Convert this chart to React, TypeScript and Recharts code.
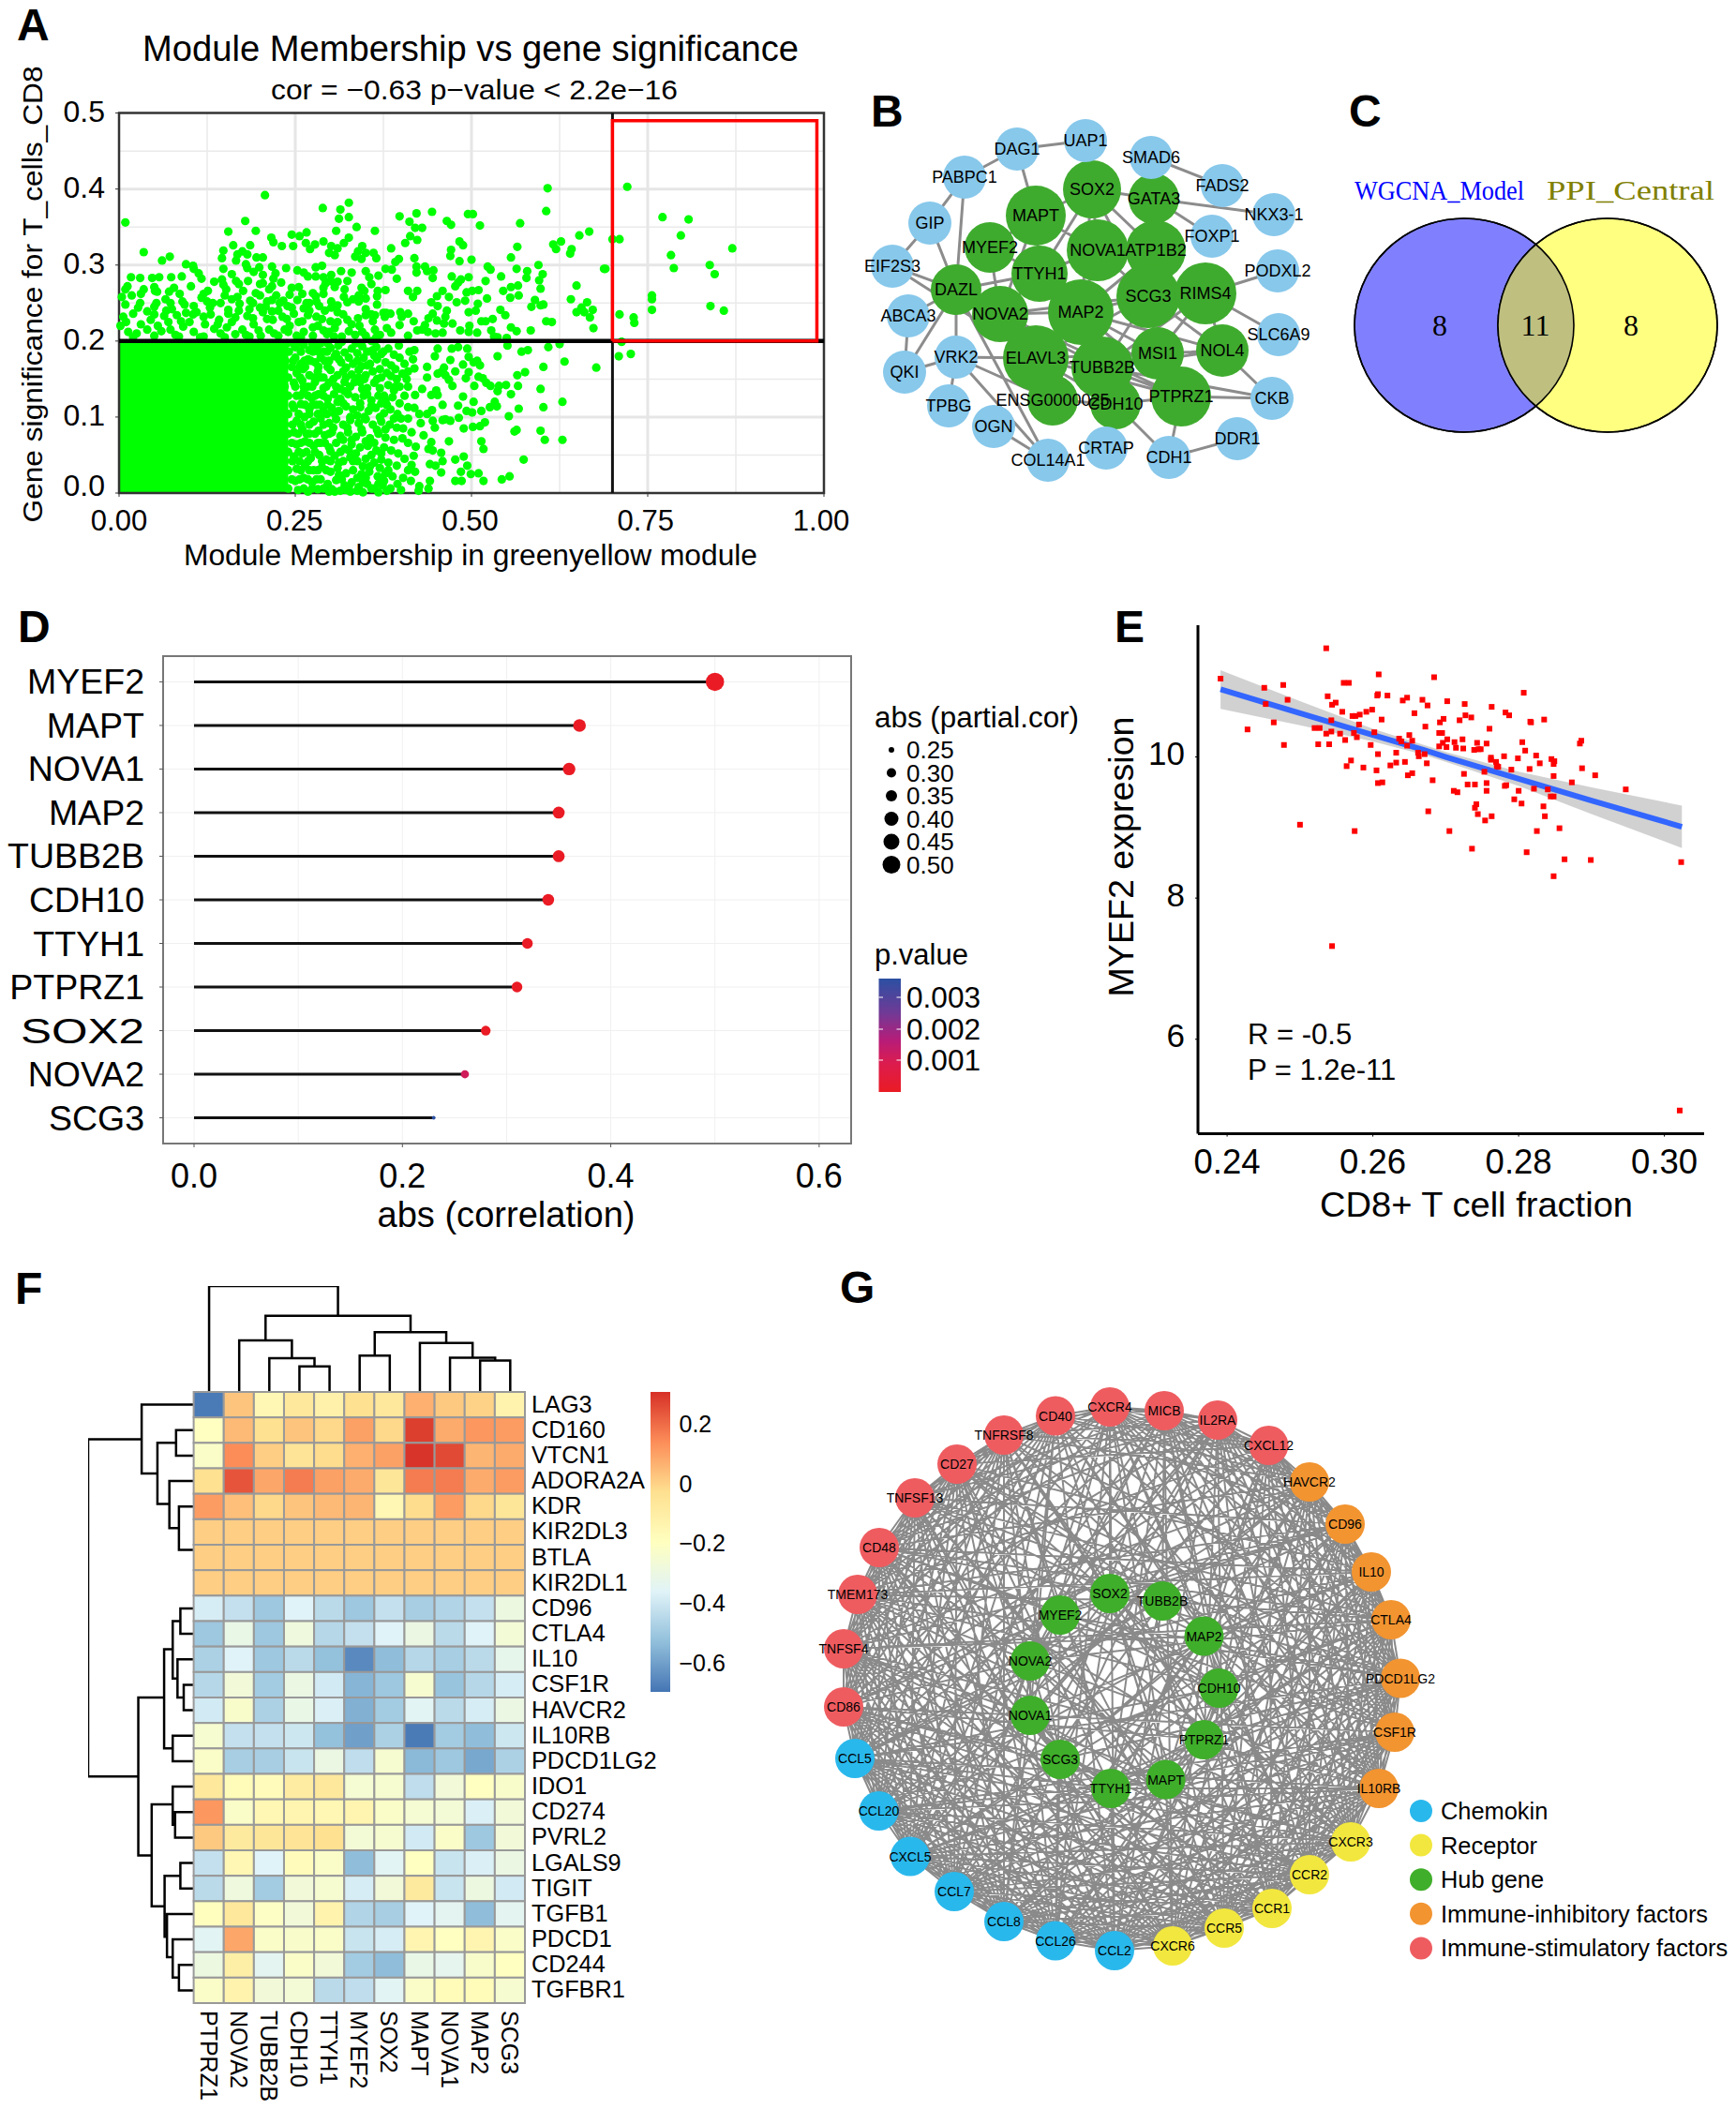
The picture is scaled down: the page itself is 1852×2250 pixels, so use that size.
import React from "react";
import { ComposedChart, XAxis, YAxis, Scatter, Line, Area, CartesianGrid, ReferenceArea } from "recharts";

const SANS = "'Liberation Sans', Arial, sans-serif";

// ---------- Panel A values: [module membership, gene significance]
const aTicksX = [0, 0.25, 0.5, 0.75, 1];
const aTicksY = [0, 0.1, 0.2, 0.3, 0.4, 0.5];
const aCutX = 0.7, aCutY = 0.2, aBoxX = 0.99, aBoxY = 0.49;
const aRightSide = [
[.721,.403],[.771,.363],[.808,.36],[.797,.339],[.87,.322],[.783,.313],[.787,.296],[.838,.3],[.845,.288],[.70,.334],[.71,.334],[.69,.295],[.756,.26],[.756,.255],[.756,.241],[.839,.246],[.858,.24],[.71,.235],[.73,.231],[.731,.224],[.713,.199],[.709,.18],[.726,.183]
];
const aUpperSparse = [
[.009,.356],[.035,.317],[.061,.306],[.072,.311],[.095,.301],[.105,.299],[.207,.392],[.179,.358],[.155,.344],[.194,.345],[.162,.326],[.148,.319],[.186,.326],[.146,.309],[.168,.314],[.175,.318],[.182,.314],[.195,.31],[.204,.31],[.166,.306],[.18,.301],[.148,.295],[.216,.336],[.219,.33],[.231,.325],[.245,.34],[.256,.338],[.266,.343],[.247,.325],[.265,.329],[.271,.321],[.278,.327],[.29,.331],[.289,.375],[.314,.373],[.326,.382],[.312,.361],[.326,.363],[.308,.345],[.337,.35],[.363,.345],[.326,.336],[.319,.329],[.301,.325],[.31,.322],[.298,.316],[.306,.313],[.345,.325],[.339,.318],[.35,.316],[.335,.311],[.361,.316],[.365,.309],[.344,.308],[.398,.364],[.422,.368],[.444,.37],[.412,.357],[.43,.349],[.42,.349],[.413,.338],[.423,.333],[.406,.329],[.386,.322],[.397,.308],[.392,.304],[.419,.309],[.422,.298],[.422,.29],[.434,.298],[.446,.293],[.437,.292],[.445,.283],[.465,.358],[.471,.353],[.483,.331],[.488,.326],[.471,.32],[.47,.312],[.483,.305],[.5,.307],[.495,.367],[.502,.367],[.512,.352],[.569,.355],[.608,.401],[.606,.371],[.667,.344],[.653,.339],[.627,.331],[.616,.327],[.62,.321],[.642,.321],[.64,.315],[.565,.324],[.556,.31],[.595,.3],[.564,.295],[.579,.292],[.578,.283],[.601,.288],[.596,.28],[.598,.269],[.649,.273],[.688,.295],[.523,.298],[.527,.294],[.542,.285],[.52,.279],[.472,.285],[.496,.284],[.485,.281],[.481,.277],[.477,.272],[.556,.271],[.566,.273],[.545,.266],[.555,.257],[.567,.26],[.641,.255],[.664,.251],[.59,.254],[.602,.248],[.598,.247],[.585,.245],[.522,.256],[.51,.267],[.501,.266],[.493,.264],[.459,.266],[.41,.266],[.423,.266],[.417,.258],[.378,.267],[.367,.266],[.394,.282],[.378,.295],[.387,.294],[.368,.286],[.358,.275],[.451,.259],[.443,.251],[.452,.246],[.468,.258],[.479,.251],[.491,.253],[.496,.238],[.509,.249],[.506,.24],[.465,.24],[.463,.232],[.461,.223],[.451,.227],[.445,.236],[.439,.23],[.473,.223],[.541,.241],[.548,.234],[.53,.229],[.514,.226],[.52,.226],[.497,.22],[.484,.214],[.508,.211],[.496,.212],[.528,.214],[.532,.206],[.556,.218],[.564,.213],[.584,.214],[.55,.204],[.537,.205],[.606,.226],[.614,.225],[.649,.238],[.656,.244],[.66,.238],[.668,.231],[.672,.241],[.673,.217],[.459,.211],[.449,.21],[.438,.212],[.43,.215],[.434,.221],[.423,.214],[.41,.207],[.418,.226],[.41,.236],[.399,.238],[.401,.232],[.398,.221],[.386,.211],[.38,.217],[.379,.237],[.385,.236],[.375,.237],[.377,.232],[.363,.234]
];
const aUpperMass = [
[.106,.295],[.113,.289],[.16,.288],[.182,.296],[.191,.291],[.199,.297],[.204,.287],[.217,.298],[.222,.289],[.237,.296],[.253,.293],[.262,.29],[.268,.285],[.279,.297],[.288,.299],[.279,.285],[.29,.284],[.301,.287],[.315,.292],[.33,.29],[.35,.292],[.355,.284],[.31,.278],[.3,.279],
[.017,.284],[.03,.283],[.047,.283],[.057,.284],[.074,.284],[.089,.285],[.117,.282],[.135,.278],[.146,.281],[.166,.279],[.183,.279],[.204,.276],[.219,.282],[.23,.277],[.255,.271],[.293,.276],[.306,.271],[.324,.279],
[.009,.268],[.012,.272],[.035,.268],[.05,.271],[.054,.265],[.071,.265],[.078,.27],[.102,.272],[.126,.266],[.148,.274],[.152,.268],[.176,.266],[.194,.263],[.213,.268],[.217,.272],[.242,.261],[.275,.263],[.279,.259],[.306,.276],[.344,.27],[.348,.266],
[.004,.258],[.018,.26],[.031,.262],[.051,.266],[.066,.255],[.086,.262],[.09,.252],[.117,.257],[.133,.25],[.168,.258],[.186,.253],[.2,.26],[.217,.254],[.233,.253],[.253,.254],[.266,.25],[.301,.252],[.319,.258],[.332,.255],[.35,.256],[.366,.248],[.12,.262],[.15,.26],[.21,.252],[.29,.262],[.366,.259],
[.009,.248],[.027,.244],[.053,.25],[.073,.25],[.093,.248],[.106,.246],[.129,.244],[.155,.241],[.171,.249],[.2,.244],[.217,.239],[.239,.246],[.262,.243],[.284,.246],[.301,.244],[.324,.251],[.35,.242],[.31,.247],[.34,.252],[.144,.25],[.185,.242],[.228,.25],[.27,.25],[.28,.252],
[.006,.232],[.02,.236],[.04,.239],[.064,.233],[.067,.24],[.082,.234],[.095,.237],[.12,.232],[.142,.228],[.155,.236],[.182,.233],[.204,.238],[.226,.24],[.248,.236],[.268,.234],[.288,.229],[.31,.238],[.339,.23],[.35,.234],[.324,.228],[.3,.226],[.36,.226],[.238,.229],[.26,.226],[.21,.229],[.165,.231],[.11,.238],[.088,.226],[.045,.228],
[.002,.22],[.013,.212],[.031,.222],[.055,.22],[.073,.215],[.091,.219],[.106,.212],[.122,.222],[.153,.218],[.175,.215],[.191,.222],[.213,.215],[.242,.22],[.262,.212],[.282,.22],[.306,.217],[.326,.213],[.341,.22],[.363,.215],[.144,.21],[.165,.209],[.201,.207],[.226,.207],[.252,.207],[.275,.207],[.295,.209],[.316,.206],[.35,.207],[.37,.208],[.085,.206],[.05,.207],[.02,.205],[.12,.206],[.185,.206],[.24,.212],[.135,.216],[.06,.213],[.335,.208],[.305,.206],[.29,.214],
[.01,.225],[.025,.21],[.04,.215],[.05,.235],[.07,.225],[.08,.208],[.1,.225],[.105,.235],[.115,.205],[.13,.235],[.14,.222],[.15,.205],[.16,.225],[.17,.24],[.18,.208],[.19,.23],[.198,.214],[.208,.245],[.218,.228],[.22,.21],[.232,.232],[.235,.215],[.245,.244],[.255,.225],[.258,.205],[.27,.24],[.275,.218],[.28,.232],[.292,.24],[.298,.212],[.31,.225],[.318,.235],[.33,.222],[.345,.212],[.358,.235],[.365,.205],[.05,.245],[.03,.25],[.075,.242],[.125,.252],[.16,.255],[.19,.25],[.223,.26],[.245,.27],[.26,.262],[.29,.27],[.32,.268],[.34,.26],[.2,.275],[.17,.275]
];
const aLowerSparse = [
[.677,.165],[.632,.173],[.602,.166],[.576,.159],[.565,.155],[.58,.188],[.571,.186],[.625,.196],[.609,.192],[.551,.194],[.537,.18],[.598,.137],[.566,.141],[.556,.13],[.549,.142],[.539,.141],[.537,.134],[.629,.12],[.602,.113],[.567,.111],[.553,.101],[.598,.082],[.629,.07],[.604,.07],[.564,.083],[.561,.081],[.574,.044],[.554,.022],[.543,.018],[.51,.026],[.517,.016],[.499,.025],[.486,.016],[.477,.016],[.485,.028],[.494,.036],[.489,.048],[.477,.044],[.459,.042],[.457,.027],[.449,.036],[.441,.038],[.517,.058],[.514,.068],[.468,.068],[.489,.085],[.519,.093],[.512,.088],[.502,.087],[.482,.099],[.47,.095],[.463,.097],[.459,.096],[.448,.086],[.445,.095],[.459,.116],[.481,.115],[.493,.108],[.501,.106],[.503,.12],[.514,.108],[.526,.113],[.533,.12],[.536,.114],[.488,.127],[.504,.141],[.527,.141],[.521,.145],[.51,.153],[.516,.151],[.492,.151],[.496,.159],[.477,.16],[.473,.141],[.468,.149],[.463,.155],[.457,.159],[.461,.165],[.452,.157],[.488,.169],[.496,.179],[.503,.172],[.512,.168],[.508,.174],[.47,.175],[.448,.18],[.452,.19],[.472,.19],[.481,.192],[.494,.19],[.437,.166],[.419,.164],[.437,.152],[.43,.137],[.443,.129],[.45,.135],[.452,.129],[.42,.129],[.428,.092],[.432,.076],[.443,.067],[.439,.058],[.445,.056],[.457,.053],[.421,.061],[.418,.049],[.441,.016],[.439,.006],[.426,.009],[.414,.016],[.444,.109],[.437,.104],[.426,.104],[.419,.112],[.41,.113],[.419,.188],[.412,.186],[.397,.194],[.417,.176],[.405,.17],[.41,.16],[.408,.15],[.41,.14],[.405,.128],[.41,.098],[.403,.085],[.415,.08],[.402,.072],[.41,.066],[.415,.037],[.41,.03],[.405,.045],[.403,.02],[.395,.012],[.42,.028],[.425,.003]
];
const aLowerDense = [
[.25,.192],[.262,.195],[.27,.188],[.281,.193],[.29,.186],[.3,.191],[.311,.194],[.32,.185],[.33,.19],[.345,.193],[.352,.186],[.365,.192],[.372,.183],[.382,.19],[.39,.182],[.398,.178],
[.25,.178],[.258,.17],[.268,.176],[.278,.172],[.286,.178],[.298,.174],[.306,.18],[.315,.172],[.326,.178],[.338,.174],[.347,.178],[.356,.17],[.366,.176],[.378,.172],[.386,.168],[.392,.163],
[.252,.158],[.261,.163],[.27,.155],[.282,.16],[.29,.152],[.3,.162],[.31,.155],[.318,.16],[.33,.156],[.34,.162],[.35,.155],[.36,.16],[.372,.152],[.38,.158],[.394,.15],[.402,.157],
[.248,.145],[.26,.148],[.268,.14],[.278,.146],[.29,.138],[.298,.145],[.308,.14],[.32,.146],[.328,.14],[.342,.146],[.352,.138],[.362,.145],[.37,.138],[.382,.142],[.39,.135],[.398,.14],
[.252,.128],[.262,.133],[.273,.125],[.283,.13],[.296,.124],[.305,.13],[.314,.124],[.325,.13],[.335,.126],[.347,.128],[.358,.122],[.368,.128],[.378,.122],[.388,.126],[.398,.118],
[.248,.112],[.258,.117],[.27,.11],[.28,.116],[.29,.108],[.302,.112],[.312,.108],[.322,.114],[.332,.11],[.342,.113],[.354,.108],[.364,.112],[.376,.105],[.385,.11],[.395,.104],[.4,.098],
[.252,.095],[.263,.1],[.276,.094],[.286,.098],[.298,.092],[.308,.097],[.318,.09],[.328,.096],[.34,.092],[.35,.097],[.36,.09],[.372,.094],[.384,.09],[.394,.086],
[.248,.08],[.26,.084],[.27,.078],[.283,.082],[.292,.076],[.302,.08],[.314,.075],[.325,.08],[.336,.074],[.345,.08],[.356,.072],[.368,.078],[.378,.073],[.39,.07],
[.252,.064],[.264,.068],[.276,.062],[.286,.066],[.298,.06],[.308,.066],[.32,.058],[.33,.064],[.342,.06],[.353,.062],[.365,.056],[.376,.06],[.386,.056],[.396,.052],
[.248,.048],[.26,.052],[.272,.046],[.284,.05],[.294,.044],[.306,.049],[.318,.042],[.328,.047],[.338,.042],[.35,.045],[.362,.04],[.372,.044],[.382,.04],[.394,.036],
[.252,.032],[.264,.036],[.276,.03],[.288,.034],[.3,.028],[.31,.033],[.322,.026],[.332,.03],[.344,.025],[.355,.028],[.367,.022],[.378,.026],[.388,.022],
[.25,.016],[.262,.02],[.274,.014],[.286,.018],[.296,.012],[.308,.017],[.32,.01],[.33,.014],[.34,.008],[.352,.012],[.362,.006],[.374,.01],[.385,.006],[.4,.004],
[.254,.004],[.268,.002],[.282,.005],[.298,.002],[.314,.003],[.328,.002],[.346,.001],[.368,.001]
];
const aLowerFillRows = [
[.197,[.238,.247,.256,.274,.286,.296]],[.186,[.241,.258,.275,.283,.295]],[.174,[.236,.247,.263,.272,.292]],[.166,[.245,.256,.264,.283,.296]],[.152,[.24,.257,.277,.286]],[.14,[.235,.25,.262,.274,.294]],[.128,[.24,.257,.268,.278,.29]],[.116,[.246,.264,.275,.285,.296]],[.104,[.24,.255,.27,.282,.295]],[.09,[.235,.246,.258,.27,.29]],[.078,[.24,.254,.266,.278,.298]],[.066,[.245,.258,.27,.282,.292]],[.054,[.24,.255,.266,.278]],[.042,[.235,.246,.256,.268,.288,.3]],[.03,[.24,.258,.27,.282,.294]],[.018,[.245,.256,.268,.28]],[.006,[.24,.262,.274,.29]]
];
const aLowerFillRight = [
[.316,.199],[.336,.197],[.358,.2],[.308,.183],[.338,.184],[.36,.188],[.375,.186],[.312,.176],[.332,.17],[.344,.167],[.362,.181],[.322,.165],[.34,.152],[.352,.168],[.37,.163],[.304,.15],[.322,.152],[.345,.137],[.366,.15],[.386,.154],[.314,.137],[.334,.146],[.348,.15],[.376,.128],[.392,.14],[.31,.12],[.32,.134],[.342,.118],[.352,.13],[.372,.118],[.318,.118],[.338,.102],[.358,.115],[.38,.116],[.306,.104],[.328,.1],[.348,.1],[.37,.1],[.39,.098],[.304,.086],[.324,.086],[.344,.084],[.366,.083],[.378,.084],[.318,.07],[.33,.07],[.35,.068],[.362,.066],[.314,.054],[.336,.052],[.358,.05],[.372,.052],[.3,.055],[.312,.04],[.326,.056],[.346,.035],[.37,.033],[.382,.03],[.312,.024],[.332,.042],[.356,.035],[.376,.016],[.316,.018],[.338,.02],[.35,.02],[.372,.02],[.302,.005],[.326,.008],[.346,.014],[.368,.012],[.306,.002],[.322,.004],[.338,.003],[.358,.006],[.38,.003]
];
const aPoints = [...aRightSide, ...aUpperSparse, ...aUpperMass, ...aLowerSparse, ...aLowerDense, ...aLowerFillRight].map(([x, y]) => ({ x, y }))
  .concat(aLowerFillRows.flatMap(([y, xs]) => xs.map((x) => ({ x, y }))));
const aGuideV = [{ x: aCutX, y: 0 }, { x: aCutX, y: 0.5 }];
const aGuideH = [{ x: 0, y: aCutY }, { x: 1, y: aCutY }];
const aBox = [{ x: aCutX, y: aCutY }, { x: aCutX, y: aBoxY }, { x: aBoxX, y: aBoxY }, { x: aBoxX, y: aCutY }, { x: aCutX, y: aCutY }];

// ---------- Panel B network
const bBlue = [["UAP1",1158,150],["DAG1",1085,159],["SMAD6",1228,168],["PABPC1",1029,189],["FADS2",1304,198],["NKX3-1",1359,229],["GIP",992,238],["FOXP1",1293,252],["EIF2S3",952,284],["PODXL2",1363,289],["ABCA3",969,337],["SLC6A9",1364,357],["VRK2",1020,381],["QKI",965,397],["CKB",1357,425],["TPBG",1012,433],["OGN",1060,455],["DDR1",1320,468],["CRTAP",1180,478],["CDH1",1247,488],["COL14A1",1118,491]];
const bGreen = [["ENSG0000025",1123,427,27],["SOX2",1165,202,31],["GATA3",1231,212,27],["MAPT",1105,230,32],["MYEF2",1056,264,27],["NOVA1",1171,267,33],["ATP1B2",1233,267,32],["TTYH1",1109,292,30],["DAZL",1020,309,27],["NOVA2",1067,335,30],["SCG3",1225,316,34],["RIMS4",1286,313,33],["MAP2",1153,333,35],["MSI1",1235,377,28],["NOL4",1304,374,28],["ELAVL3",1105,382,35],["TUBB2B",1176,392,33],["CDH10",1190,431,27],["PTPRZ1",1260,423,32]];
const bEdges = "DAG1-UAP1 PABPC1-DAG1 DAG1-MAPT PABPC1-GIP PABPC1-DAZL GIP-EIF2S3 GIP-DAZL EIF2S3-DAZL EIF2S3-ELAVL3 ABCA3-DAZL ABCA3-QKI QKI-DAZL QKI-VRK2 VRK2-DAZL VRK2-TPBG VRK2-ELAVL3 VRK2-ENSG0000025 VRK2-COL14A1 DAZL-COL14A1 OGN-COL14A1 DAZL-ELAVL3 SMAD6-FADS2 SOX2-GATA3 GATA3-NKX3-1 GATA3-FOXP1 RIMS4-PODXL2 RIMS4-SLC6A9 NOL4-CKB PTPRZ1-CKB TUBB2B-CKB CDH10-CDH1 PTPRZ1-CDH1 CDH1-DDR1 CDH10-PTPRZ1 CRTAP-CDH10 MAPT-SOX2 MAPT-NOVA1 MAPT-TTYH1 MAPT-MYEF2 MYEF2-TTYH1 MYEF2-NOVA2 SOX2-NOVA1 SOX2-ATP1B2 SOX2-TTYH1 SOX2-MAP2 SOX2-SCG3 GATA3-ATP1B2 NOVA1-MAP2 NOVA1-TTYH1 NOVA1-ATP1B2 NOVA1-SCG3 ATP1B2-MAP2 ATP1B2-SCG3 TTYH1-MAP2 TTYH1-NOVA2 NOVA2-MAP2 NOVA2-ELAVL3 NOVA2-TUBB2B MAP2-ELAVL3 MAP2-TUBB2B MAP2-SCG3 MAP2-MSI1 MAP2-NOL4 MAP2-PTPRZ1 SCG3-RIMS4 SCG3-MSI1 SCG3-NOL4 SCG3-TUBB2B RIMS4-NOL4 RIMS4-MSI1 RIMS4-TUBB2B MSI1-NOL4 MSI1-TUBB2B MSI1-PTPRZ1 NOL4-TUBB2B TUBB2B-PTPRZ1 TUBB2B-CDH10 ELAVL3-TUBB2B ELAVL3-CDH10 ELAVL3-PTPRZ1 ELAVL3-ENSG0000025 ENSG0000025-CDH10 NOVA2-DAZL TTYH1-DAZL MAPT-NOVA2 NOVA2-SCG3 ELAVL3-MSI1 ELAVL3-SCG3 NOVA2-PTPRZ1".split(" ");

// ---------- Panel C
const vennSets = [{ name: "WGCNA_Model", x: 1562, y: 347, only: 8 }, { name: "PPI_Central", x: 1715, y: 347, only: 8 }];
const vennShared = 11;

// ---------- Panel D
const dGenes = ["MYEF2","MAPT","NOVA1","MAP2","TUBB2B","CDH10","TTYH1","PTPRZ1","SOX2","NOVA2","SCG3"];
const dCorrelation = [0.5,0.37,0.36,0.35,0.35,0.34,0.32,0.31,0.28,0.26,0.23];
const dPartial = [0.5,0.39,0.385,0.375,0.375,0.37,0.35,0.35,0.33,0.3,0.24];
const dPValue = [0.00001,0.0001,0.0001,0.0001,0.0001,0.0001,0.0001,0.0001,0.0002,0.0009,0.0035];
const dSizeLegend = [0.25,0.3,0.35,0.4,0.45,0.5];

// ---------- Panel E
const eValues = [[.2391,11.11],[.2428,10.39],[.2451,10.98],[.2453,10.75],[.2464,10.49],[.2477,11.02],[.2478,10.17],[.2483,10.81],[.25,9.04],[.252,10.41],[.2525,10.18],[.2527,10.41],[.2536,11.54],[.2536,10.33],[.2538,10.86],[.254,10.18],[.2543,10.52],[.2543,10.36],[.2544,10.74],[.2544,7.32],[.2549,10.77],[.2555,10.33],[.2558,10.64],[.256,11.05],[.2562,10.24],[.2564,9.87],[.2567,11.05],[.257,9.95],[.2572,10.58],[.2575,8.95],[.2574,10.34],[.2576,10.58],[.2578,10.28],[.2581,10.46],[.2582,10.6],[.2587,9.85],[.2591,10.64],[.2597,10.17],[.2599,10.67],[.2602,10.35],[.2606,10.87],[.2607,10.89],[.2605,9.81],[.2607,10.04],[.2607,9.63],[.2608,11.17],[.2612,10.53],[.2613,9.64],[.262,10.87],[.2624,9.88],[.2632,10.06],[.2632,9.92],[.2636,10.26],[.2639,10.22],[.2641,10.8],[.2644,9.93],[.2647,10.84],[.2647,10.16],[.2648,9.74],[.265,10.31],[.2654,9.77],[.2654,10.23],[.2657,10.62],[.2662,10.06],[.2663,10.01],[.2668,10.81],[.2671,10.04],[.2672,10.43],[.2674,9.91],[.2675,10.73],[.2676,9.23],[.2682,9.67],[.2684,11.13],[.2691,10.15],[.2691,10.34],[.2692,10.49],[.2695,10.34],[.2696,10.2],[.2697,10.54],[.2701,10.14],[.2702,10.79],[.2702,10.25],[.2705,8.95],[.2711,9.52],[.2712,10.21],[.2714,10.13],[.2716,9.5],[.2719,10.52],[.2723,10.25],[.2724,10.12],[.2725,9.76],[.2726,10.75],[.2727,10.59],[.273,9.61],[.2735,10.56],[.2736,8.7],[.2739,10.1],[.274,9.61],[.274,9.28],[.2742,9.33],[.2743,10.2],[.2744,9.19],[.2745,10.11],[.2748,10.11],[.2753,9.79],[.2754,9.1],[.2756,10.19],[.2756,9.63],[.2756,9.52],[.276,10.4],[.2762,9.96],[.2762,9.99],[.2763,9.16],[.2763,10.71],[.2769,9.93],[.277,9.87],[.2772,9.86],[.278,10.01],[.2781,9.59],[.2782,10.63],[.2783,9.6],[.2787,10.59],[.279,9.82],[.2794,9.4],[.2799,9.98],[.28,9.52],[.2804,9.34],[.2805,10.21],[.2807,10.91],[.2809,10.09],[.2811,8.65],[.2815,9.83],[.2816,10.5],[.2817,10.49],[.2821,9.55],[.2824,10.02],[.2825,8.95],[.2829,9.91],[.2834,9.3],[.2835,10.53],[.2836,9.16],[.284,9.54],[.2844,9.44],[.2845,9.97],[.2848,8.31],[.2848,9.73],[.2848,9.9],[.2849,9.94],[.2848,9.44],[.2856,8.99],[.2863,8.55],[.2873,9.64],[.2884,10.19],[.2886,10.23],[.2887,9.84],[.2899,8.54],[.2905,9.74],[.2947,9.54],[.3021,4.99],[.3023,8.51]];
const eFit = [
 { x: 0.2391, fit: 10.96, band: [10.68, 11.23] },
 { x: 0.25, fit: 10.62, band: [10.45, 10.79] },
 { x: 0.26, fit: 10.31, band: [10.22, 10.40] },
 { x: 0.267, fit: 10.1, band: [10.03, 10.17] },
 { x: 0.27, fit: 10.0, band: [9.93, 10.07] },
 { x: 0.28, fit: 9.69, band: [9.59, 9.79] },
 { x: 0.29, fit: 9.38, band: [9.19, 9.57] },
 { x: 0.3024, fit: 9.01, band: [8.71, 9.31] },
];
const eScatter = eValues.map(([x, y]) => ({ x, y }));

// ---------- Panel F
const fCols = ["PTPRZ1","NOVA2","TUBB2B","CDH10","TTYH1","MYEF2","SOX2","MAPT","NOVA1","MAP2","SCG3"];
const fRows = ["LAG3","CD160","VTCN1","ADORA2A","KDR","KIR2DL3","BTLA","KIR2DL1","CD96","CTLA4","IL10","CSF1R","HAVCR2","IL10RB","PDCD1LG2","IDO1","CD274","PVRL2","LGALS9","TIGIT","TGFB1","PDCD1","CD244","TGFBR1"];
const fHeat = [
[-.68,.03,-.15,-.07,-.12,-.03,-.07,.07,.02,0,-.13],
[-.2,.05,-.03,.03,-.01,.1,-.01,.28,.08,.12,.11],
[-.22,.14,.01,-.05,-.02,.07,.1,.3,.26,.06,.08],
[-.03,.24,.09,.17,.1,.08,-.06,.17,.17,.08,.11],
[.11,.04,-.01,.03,.05,.06,-.15,-.02,.11,-.01,-.06],
[.01,.01,.01,.01,.01,.01,.01,.01,.01,.01,.01],
[.01,.01,.01,.01,.01,.01,.01,.01,.01,.01,.01],
[.01,.01,.01,.01,.01,.01,.01,.01,.01,.01,.01],
[-.38,-.42,-.5,-.36,-.44,-.5,-.42,-.48,-.46,-.42,-.29],
[-.5,-.31,-.5,-.28,-.45,-.42,-.36,-.3,-.44,-.36,-.26],
[-.47,-.36,-.5,-.44,-.52,-.65,-.53,-.45,-.48,-.44,-.32],
[-.45,-.27,-.49,-.3,-.39,-.55,-.5,-.24,-.51,-.45,-.38],
[-.39,-.23,-.47,-.31,-.37,-.56,-.49,-.35,-.44,-.38,-.3],
[-.24,-.42,-.42,-.4,-.52,-.6,-.47,-.68,-.49,-.53,-.4],
[-.22,-.48,-.48,-.41,-.3,-.43,-.24,-.54,-.5,-.58,-.47],
[-.07,-.17,-.18,-.09,-.07,-.25,-.24,-.43,-.27,-.2,-.23],
[.12,-.22,-.15,-.14,-.15,-.14,-.22,-.25,-.26,-.37,-.27],
[.02,-.08,-.06,-.05,-.03,-.26,-.24,-.39,-.22,-.5,-.27],
[-.42,-.15,-.36,-.18,-.22,-.53,-.35,-.2,-.41,-.37,-.3],
[-.44,-.28,-.49,-.27,-.24,-.38,-.27,-.08,-.41,-.29,-.39],
[-.19,-.07,-.21,-.27,-.13,-.46,-.48,-.36,-.34,-.53,-.34],
[-.35,.09,-.22,-.23,-.22,-.41,-.38,-.14,-.2,-.14,-.22],
[-.29,-.11,-.34,-.22,-.27,-.49,-.53,-.31,-.33,-.23,-.2],
[-.22,-.13,-.27,-.26,-.44,-.43,-.35,-.22,-.17,-.17,-.24],
];
const fPalette = ["#4575B4","#91BFDB","#E0F3F8","#FFFFBF","#FEE090","#FC8D59","#D73027"];
const fScaleMin = -0.694, fScaleMax = 0.307;
const fLegendTicks = [[0.2,"0.2"],[0,"0"],[-0.2,"\u22120.2"],[-0.4,"\u22120.4"],[-0.6,"\u22120.6"]];
// dendrogram merges: [posA, heightA, posB, heightB, mergeHeight]
const fTopMerges = [[3.5,0,4.5,0,47],[2.5,0,4,47,62],[1.5,0,3.25,62,95],[5.5,0,6.5,0,67],[9.5,0,10.5,0,58],[8.5,0,10,58,63],[7.5,0,9.25,63,90],[6,67,8.375,90,110],[2.375,95,7.19,110,140],[.5,0,4.78,140,195]];
const fLeftMerges = [[1.5,0,2.5,0,36],[4.5,0,6.2,0,30],[3.5,0,5.35,30,50],[2,36,4.4,50,75],[.5,0,3.2,75,108],[8.5,0,9.5,0,27],[11.5,0,12.5,0,20],[10.5,0,12,20,33],[9,27,11.25,33,43],[13.5,0,14.5,0,43],[10.1,43,14,43,61],[22.5,0,23.5,0,30],[21.5,0,23,30,43],[20.5,0,22.2,43,55],[18.5,0,19.5,0,27],[19,27,21.4,55,60],[16.5,0,17.5,0,38],[15.5,0,17,38,43],[16.2,43,20.2,60,87],[12,61,18.2,87,115],[1.86,108,15.1,115,220]];

// ---------- Panel G
const gOuter = [["CXCR4",1184,1501,"s"],["MICB",1242,1505,"s"],["IL2RA",1299,1515,"s"],["CXCL12",1353.5,1542,"s"],["HAVCR2",1397,1581,"i"],["CD96",1435,1626,"i"],["IL10",1463,1677,"i"],["CTLA4",1484,1728,"i"],["PDCD1LG2",1494,1790.5,"i"],["CSF1R",1488,1848,"i"],["IL10RB",1471,1908,"i"],["CXCR3",1441,1965,"r"],["CCR2",1397,2000,"r"],["CCR1",1357,2036,"r"],["CCR5",1306,2057,"r"],["CXCR6",1251,2076,"r"],["CCL2",1189,2081,"c"],["CCL26",1126,2070.5,"c"],["CCL8",1071,2050,"c"],["CCL7",1018,2018,"c"],["CXCL5",971,1980.5,"c"],["CCL20",937.5,1932,"c"],["CCL5",912,1876,"c"],["CD86",900,1821,"s"],["TNFSF4",900,1759,"s"],["TMEM173",915,1701,"s"],["CD48",938,1651,"s"],["TNFSF13",976,1598,"s"],["CD27",1021,1562,"s"],["TNFRSF8",1071,1531,"s"],["CD40",1126,1510.5,"s"]];
const gHubs = [["SOX2",1184,1700,"h"],["TUBB2B",1240,1708,"h"],["MAP2",1284.5,1745.5,"h"],["CDH10",1300.5,1801,"h"],["PTPRZ1",1284.5,1856,"h"],["MAPT",1243.6,1898.5,"h"],["TTYH1",1185,1908,"h"],["SCG3",1131,1877,"h"],["NOVA1",1099,1830,"h"],["NOVA2",1099,1772,"h"],["MYEF2",1131,1723,"h"]];
const gAdj = [
[1,2,3,5,8,11,14,16,17,19,22,24,26,28,29,30,31,33,36,39],[2,3,4,6,9,12,15,18,20,23,25,27,30,32,34,37,40],[3,4,5,7,10,13,16,19,21,24,26,29,31,35,38,41],[4,5,6,8,11,14,17,20,22,25,28,30,33,36,39],[5,6,7,9,12,15,18,21,23,26,29,32,34,37,40],[6,7,8,10,13,16,19,22,24,27,30,31,35,38,41],[7,8,9,11,14,17,20,23,25,28,33,36,39],[8,9,10,12,15,18,21,24,26,29,32,34,37,40],[9,10,11,13,16,19,22,25,27,30,31,35,38,41],[10,11,12,14,17,20,23,26,28,33,36,39],[11,12,13,15,18,21,24,27,29,32,34,37,40],[12,13,14,16,19,22,25,28,30,31,35,38,41],[13,14,15,17,20,23,26,29,33,36,39],[14,15,16,18,21,24,27,30,32,34,37,40],[15,16,17,19,22,25,28,31,35,38,41],[16,17,18,20,23,26,29,33,36,39],[17,18,19,21,24,27,30,32,34,37,40],[18,19,20,22,25,28,31,35,38,41],[19,20,21,23,26,29,33,36,39],[20,21,22,24,27,30,32,34,37,40],[21,22,23,25,28,31,35,38,41],[22,23,24,26,29,33,36,39],[23,24,25,27,30,32,34,37,40],[24,25,26,28,31,35,38,41],[25,26,27,29,33,36,39],[26,27,28,30,32,34,37,40],[27,28,29,31,35,38,41],[28,29,30,33,36,39],[29,30,32,34,37,40],[30,31,35,38,41],[33,36,39],[32,36,40],[33,37],[34,38],[35,41],[36],[37],[38],[39],[40],[41],[],
];
const gAdjMore = [
[4,6,7,9,10,12,20,25],[5,7,8,10,11,13,21,26],[6,8,9,11,12,14,22,27],[7,9,10,12,13,15,23,29],[8,10,11,13,14,16,24,30],[9,11,12,14,15,17,25],[10,12,13,15,16,18,26],[11,13,14,16,17,19,27],[12,14,15,17,18,20,28],[13,15,16,18,19,21,29],[14,16,17,19,20,22,30],[15,17,18,20,21,23],[16,18,19,21,22,24],[17,19,20,22,23,25],[18,20,21,23,24,26],[19,21,22,24,25,27],[20,22,23,25,26,28],[21,23,24,26,27,29],[22,24,25,27,28,30],[23,25,26,28,29],[24,26,27,29,30],[25,27,28,30],[26,28,29],[27,29,30],[28,30],[29],[30],
];
const gColors = { c: "#29B8EC", r: "#F2E73E", h: "#3FAE2A", i: "#F29430", s: "#EE5C60" };
const gLegend = [["Chemokin","c"],["Receptor","r"],["Hub gene","h"],["Immune-inhibitory factors","i"],["Immune-stimulatory factors","s"]];

// ---------- helpers
const segRows = (pairs) => pairs.flatMap(([a, b]) => [a, b, { x: a.x, y: null }]);
const hex = (c) => [1, 3, 5].map((i) => parseInt(c.slice(i, i + 2), 16));
function heatColor(v) {
  const t = Math.min(1, Math.max(0, (v - fScaleMin) / (fScaleMax - fScaleMin))) * (fPalette.length - 1);
  const i = Math.min(fPalette.length - 2, Math.floor(t));
  const a = hex(fPalette[i]), b = hex(fPalette[i + 1]), f = t - i;
  return `rgb(${a.map((u, k) => Math.round(u + (b[k] - u) * f)).join(",")})`;
}
function pColor(p) {
  if (p > 0.003) return "#2B50A2";
  if (p > 0.0006) return "#D01C5A";
  return "#EA1B24";
}
const partialR = (v) => (v < 0.25 ? 2 : 3 + (v - 0.25) * 27);

const Box = ({ left, top, width, height, children }) => (
  <div style={{ position: "absolute", left, top, width, height }}>{children}</div>
);

const T = ({ x, y, s, a = "start", b = false, f = "#000", ff = SANS, len, rot, children }) => (
  <text x={x} y={y} fontSize={s} textAnchor={a} fontWeight={b ? 700 : 400} fill={f} fontFamily={ff} dominantBaseline="central"
    textLength={len} lengthAdjust={len ? "spacingAndGlyphs" : undefined}
    transform={rot ? `rotate(${rot} ${x} ${y})` : undefined}>{children}</text>
);
const Letter = ({ x, y, children }) => (
  <text x={x} y={y} fontSize={48} fontWeight={700} fontFamily={SANS} fill="#000">{children}</text>
);

const greenDot = (p) => <circle cx={p.cx} cy={p.cy} r={4.6} fill="#00FF00" />;
const redSquare = (p) => <rect x={p.cx - 3} y={p.cy - 3} width={6} height={6} fill="#FF0000" />;
const aXTick = (p) => (
  <text x={p.x - 3 * p.payload.value} y={p.y} fontSize={31} fontFamily={SANS} fill="#000" textAnchor="middle" dominantBaseline="hanging">{p.payload.value.toFixed(2)}</text>
);
const aYTick = (p) => (
  <text x={p.x} y={p.y - (p.payload.value === 0 ? 8 : 2)} fontSize={32} fontFamily={SANS} fill="#000" textAnchor="end" dominantBaseline="central">{p.payload.value.toFixed(1)}</text>
);

function PanelA() {
  return (
    <ComposedChart width={926} height={620} margin={{ top: 120.6, right: 47, bottom: 34, left: 67 }}>
      <CartesianGrid stroke="#EAEAEA" strokeWidth={1.5} verticalValues={[.125,.375,.625,.875]} horizontalValues={[.05,.15,.25,.35,.45]} />
      <CartesianGrid stroke="#E6E6E6" strokeWidth={3} verticalValues={[.25,.5,.75]} horizontalValues={[.1,.2,.3,.4]} />
      <XAxis dataKey="x" type="number" domain={[0, 1]} ticks={aTicksX} interval={0} height={60} tick={aXTick} tickSize={4} tickMargin={14} axisLine={false} stroke="#333" />
      <YAxis dataKey="y" type="number" domain={[0, 0.5]} ticks={aTicksY} interval={0} width={60} tick={aYTick} tickSize={4} tickMargin={11} axisLine={false} stroke="#333" />
      <ReferenceArea x1={0} x2={0.24} y1={0} y2={0.2} fill="#00FF00" fillOpacity={1} stroke="none" />
      <ReferenceArea x1={0} x2={1} y1={0} y2={0.5} fill="none" stroke="#333" strokeWidth={2.5} />
      <Scatter data={aPoints} shape={greenDot} isAnimationActive={false} />
    </ComposedChart>
  );
}
function PanelAGuides() {
  return (
    <ComposedChart width={926} height={620} margin={{ top: 120.6, right: 47, bottom: 94, left: 127 }}>
      <XAxis dataKey="x" type="number" domain={[0, 1]} hide />
      <YAxis dataKey="y" type="number" domain={[0, 0.5]} hide />
      <Line data={aGuideV} dataKey="y" stroke="#111" strokeWidth={3} dot={false} isAnimationActive={false} />
      <Line data={aGuideH} dataKey="y" stroke="#000" strokeWidth={4.5} dot={false} isAnimationActive={false} />
      <Line data={aBox} dataKey="y" stroke="#FF0000" strokeWidth={3.5} dot={false} isAnimationActive={false} />
    </ComposedChart>
  );
}

const bAll = [...bGreen.map(([name, x, y, r]) => ({ name, x, y, r, c: "#3FAB2E" })), ...bBlue.map(([name, x, y]) => ({ name, x, y, r: 23, c: "#87C8EB" }))];
const bIndex = Object.fromEntries(bAll.map((n) => [n.name, n]));
const bEdgeRows = segRows(bEdges.map((e) => {
  const i = e.indexOf("-", e.startsWith("NKX3-1") ? 7 : 0);
  const a = e.slice(0, i), b = e.slice(i + 1);
  return [bIndex[a], bIndex[b]].map((n) => ({ x: n.x, y: n.y }));
}));
const graphCircle = (p) => <circle cx={p.cx} cy={p.cy} r={p.payload.r} fill={p.payload.c} />;
const graphLabel = (s) => (p) => (
  <text x={p.cx} y={p.cy} fontSize={s} fontFamily={SANS} textAnchor="middle" dominantBaseline="central" fill="#000">{p.payload.name}</text>
);

function Graph({ left, top, w, h, rows, nodes, stroke, edgeW, label }) {
  return (
    <Box left={left} top={top} width={w} height={h}>
      <ComposedChart width={w} height={h} margin={{ top: 0, right: 0, bottom: 0, left: 0 }}>
        <XAxis dataKey="x" type="number" domain={[left, left + w]} hide />
        <YAxis dataKey="y" type="number" domain={[top, top + h]} reversed hide />
        <Line data={rows} dataKey="y" stroke={stroke} strokeWidth={edgeW} dot={false} isAnimationActive={false} connectNulls={false} />
        <Scatter data={nodes} shape={graphCircle} isAnimationActive={false} />
        <Scatter data={nodes} shape={graphLabel(label)} isAnimationActive={false} />
      </ComposedChart>
    </Box>
  );
}

const vennShape = (p) => <ellipse cx={p.cx} cy={p.cy} rx={117} ry={114} fill={p.payload.c} stroke="#000" strokeWidth={1.6} />;
const vennData = [
  { ...vennSets[0], c: "#8080FF" },
  { ...vennSets[1], c: "#FFFF80" },
];
const lensShape = (p) => (
  <g>
    <defs>
      <clipPath id="vennLeft"><ellipse cx={1562 - 1400} cy={347 - 200} rx={117} ry={114} /></clipPath>
    </defs>
    <ellipse cx={p.cx} cy={p.cy} rx={117} ry={114} fill="#BFBF80" clipPath="url(#vennLeft)" />
    <ellipse cx={p.cx} cy={p.cy} rx={117} ry={114} fill="none" stroke="#000" strokeWidth={1.6} />
    <ellipse cx={1562 - 1400} cy={347 - 200} rx={117} ry={114} fill="none" stroke="#000" strokeWidth={1.6} />
  </g>
);
function PanelC() {
  return (
    <ComposedChart width={452} height={300} margin={{ top: 0, right: 0, bottom: 0, left: 0 }}>
      <XAxis dataKey="x" type="number" domain={[1400, 1852]} hide />
      <YAxis dataKey="y" type="number" domain={[200, 500]} reversed hide />
      <Scatter data={vennData} shape={vennShape} isAnimationActive={false} />
      <Scatter data={[vennData[1]]} shape={lensShape} isAnimationActive={false} />
    </ComposedChart>
  );
}

const dRows = dGenes.map((name, i) => ({ name, x: dCorrelation[i], y: i, r: partialR(dPartial[i]), c: pColor(dPValue[i]) }));
const dStems = segRows(dRows.map((d) => [{ x: 0, y: d.y }, { x: d.x, y: d.y }]));
const dDot = (p) => <circle cx={p.cx} cy={p.cy} r={p.payload.r} fill={p.payload.c} />;
const dTick = (p) => {
  const name = dGenes[p.payload.value];
  return (
    <text x={p.x} y={p.y} textAnchor="end" dominantBaseline="central" fontSize={37.5} fontFamily={SANS} fill="#000"
      {...(name === "SOX2" ? { textLength: 132, lengthAdjust: "spacingAndGlyphs" } : {})}>{name}</text>
  );
};
function PanelD() {
  return (
    <ComposedChart width={930} height={680} margin={{ top: 60, right: 22, bottom: 40, left: 4 }}>
      <CartesianGrid stroke="#F0F0F0" strokeWidth={1} verticalValues={[0,.1,.2,.3,.4,.5,.6]} horizontalValues={[0,1,2,3,4,5,6,7,8,9,10]} />
      <XAxis dataKey="x" type="number" domain={[-0.0297, 0.6307]} ticks={[0, .2, .4, .6]} interval={0} height={60} tickFormatter={(v) => v.toFixed(1)} tick={{ fontSize: 36, fill: "#000", fontFamily: SANS }} tickSize={4} tickMargin={17} axisLine={false} stroke="#555" />
      <YAxis dataKey="y" type="number" domain={[-0.59, 10.59]} reversed ticks={[0,1,2,3,4,5,6,7,8,9,10]} interval={0} width={170} tick={dTick} tickSize={4} tickMargin={16} axisLine={false} stroke="#555" />
      <ReferenceArea x1={-0.0297} x2={0.6307} y1={-0.59} y2={10.59} fill="none" stroke="#777" strokeWidth={2} />
      <Line data={dStems} dataKey="y" stroke="#111" strokeWidth={3} dot={false} isAnimationActive={false} connectNulls={false} />
      <Scatter data={dRows} shape={dDot} isAnimationActive={false} />
    </ComposedChart>
  );
}

const eYTick = (p) => (
  <text x={p.x} y={p.y - 4} fontSize={35} fontFamily={SANS} fill="#000" textAnchor="end" dominantBaseline="central">{p.payload.value}</text>
);
function PanelE() {
  return (
    <ComposedChart width={692} height={700} data={eFit} margin={{ top: 27, right: 34, bottom: 70.4, left: 38 }}>
      <XAxis dataKey="x" type="number" domain={[0.236, 0.30545]} ticks={[.24,.26,.28,.30]} interval={0} height={60} tickFormatter={(v) => v.toFixed(2)} tick={{ fontSize: 36.5, fill: "#000", fontFamily: SANS }} tickSize={3} tickMargin={13} axisLine={{ stroke: "#000", strokeWidth: 3 }} stroke="#000" />
      <YAxis dataKey="y" type="number" domain={[4.66, 11.867]} ticks={[6, 8, 10]} interval={0} width={80} tick={eYTick} tickSize={3} tickMargin={11} axisLine={{ stroke: "#000", strokeWidth: 3 }} stroke="#000" />
      <Scatter data={eScatter} shape={redSquare} isAnimationActive={false} />
      <Area dataKey="band" stroke="none" fill="#999999" fillOpacity={0.45} isAnimationActive={false} dot={false} activeDot={false} />
      <Line dataKey="fit" stroke="#3366FF" strokeWidth={6} dot={false} isAnimationActive={false} />
    </ComposedChart>
  );
}

const fCellW = 353.4 / 11, fCellH = 652 / 24;
const fCells = fHeat.flatMap((row, r) => row.map((v, c) => ({ x: c + 0.5, y: r + 0.5, v })));
const fCell = (p) => (
  <rect x={p.cx - fCellW / 2} y={p.cy - fCellH / 2} width={fCellW} height={fCellH} fill={heatColor(p.payload.v)} stroke="#999" strokeWidth={2} />
);
const fColTick = (p) => (
  <text transform={`translate(${p.x},${p.y}) rotate(90)`} fontSize={25} fontFamily={SANS} fill="#000" dominantBaseline="central">{fCols[Math.floor(p.payload.value)]}</text>
);
const fRowTick = (p) => (
  <text x={p.x} y={p.y - 1} fontSize={25.3} fontFamily={SANS} fill="#000" textAnchor="start" dominantBaseline="central">{fRows[Math.floor(p.payload.value)]}</text>
);
function PanelFHeat() {
  return (
    <ComposedChart width={620} height={850} margin={{ top: 85, right: 5, bottom: 3, left: 106.6 }}>
      <XAxis dataKey="x" type="number" domain={[0, 11]} ticks={fCols.map((_, i) => i + .5)} interval={0} height={110} tick={fColTick} tickSize={0} tickMargin={8} axisLine={false} tickLine={false} />
      <YAxis dataKey="y" type="number" orientation="right" domain={[0, 24]} reversed ticks={fRows.map((_, i) => i + .5)} interval={0} width={155} tick={fRowTick} tickSize={0} tickMargin={7} axisLine={false} tickLine={false} />
      <Scatter data={fCells} shape={fCell} isAnimationActive={false} />
    </ComposedChart>
  );
}
const fTopRows = fTopMerges.flatMap(([a, ha, b, hb, h]) => [{ x: a, y: ha }, { x: a, y: h }, { x: b, y: h }, { x: b, y: hb }, { x: b, y: null }]);
const fLeftRows = fLeftMerges.flatMap(([a, ha, b, hb, h]) => [{ x: ha, y: a }, { x: h, y: a }, { x: h, y: b }, { x: hb, y: b }, { x: hb, y: null }]);
function DendroTop() {
  return (
    <ComposedChart width={353.4} height={113} margin={{ top: 0, right: 0, bottom: 0, left: 0 }}>
      <XAxis dataKey="x" type="number" domain={[0, 11]} hide />
      <YAxis dataKey="y" type="number" domain={[0, 195]} hide />
      <Line data={fTopRows} dataKey="y" stroke="#000" strokeWidth={2.5} dot={false} isAnimationActive={false} connectNulls={false} />
    </ComposedChart>
  );
}
function DendroLeft() {
  return (
    <ComposedChart width={112.2} height={652} margin={{ top: 0, right: 0, bottom: 0, left: 0 }}>
      <XAxis dataKey="x" type="number" domain={[0, 220]} reversed hide />
      <YAxis dataKey="y" type="number" domain={[0, 24]} reversed hide />
      <Line data={fLeftRows} dataKey="y" stroke="#000" strokeWidth={2.5} dot={false} isAnimationActive={false} connectNulls={false} />
    </ComposedChart>
  );
}

const gAll = [...gOuter, ...gHubs].map(([name, x, y, k]) => ({ name, x, y, r: 21, c: gColors[k] }));
const gPoint = (i) => ({ x: gAll[i].x, y: gAll[i].y });
const gLinks = (list) => list.flatMap((ts, i) => ts.map((j) => [gPoint(i), gPoint(j)]));
const gRows = segRows([...gLinks(gAdj), ...gLinks(gAdjMore)]);

function Overlay() {
  const fY = (v) => 1519 + ((0.2 - v) / 0.2) * 63.7;
  return (
    <svg width={1852} height={2250} style={{ position: "absolute", left: 0, top: 0, pointerEvents: "none" }}>
      <defs>
        <linearGradient id="pGrad" x1="0" y1="0" x2="0" y2="1">
          <stop offset="0" stopColor="#2B50A2" /><stop offset="0.3" stopColor="#6F3A96" /><stop offset="0.55" stopColor="#B81C78" /><stop offset="0.75" stopColor="#DC1C4E" /><stop offset="1" stopColor="#EA1B24" />
        </linearGradient>
        <linearGradient id="hGrad" x1="0" y1="1" x2="0" y2="0">
          {fPalette.map((c, i) => <stop key={c} offset={i / (fPalette.length - 1)} stopColor={c} />)}
        </linearGradient>
      </defs>
      <Letter x={18} y={43}>A</Letter><Letter x={929} y={135}>B</Letter><Letter x={1439} y={135}>C</Letter>
      <Letter x={19} y={685}>D</Letter><Letter x={1189} y={685}>E</Letter><Letter x={16} y={1391}>F</Letter><Letter x={896} y={1390}>G</Letter>

      <T x={502} y={52} s={38} a="middle" len={700}>Module Membership vs gene significance</T>
      <T x={506} y={95} s={30} a="middle" len={434}>cor = {"\u2212"}0.63 p{"\u2212"}value &lt; 2.2e{"\u2212"}16</T>
      <T x={502} y={592} s={31} a="middle" len={612}>Module Membership in greenyellow module</T>
      <T x={34} y={314} s={30} a="middle" rot={-90} len={487}>Gene significance for T_cells_CD8</T>

      <T x={1535.5} y={203} s={29} a="middle" f="#0000FF" ff="'Liberation Serif', serif" len={181}>WGCNA_Model</T>
      <T x={1739.5} y={203} s={29} a="middle" f="#808000" ff="'Liberation Serif', serif" len={179}>PPI_Central</T>
      <T x={1536} y={347} s={32} a="middle" ff="'Liberation Serif', serif">{vennSets[0].only}</T>
      <T x={1638} y={347} s={32} a="middle" ff="'Liberation Serif', serif">{vennShared}</T>
      <T x={1740} y={347} s={32} a="middle" ff="'Liberation Serif', serif">{vennSets[1].only}</T>

      <T x={540} y={1296} s={38} a="middle" len={275}>abs (correlation)</T>
      <T x={933} y={765} s={31} len={218}>abs (partial.cor)</T>
      {dSizeLegend.map((v, i) => (
        <g key={v}>
          <circle cx={951} cy={800 + i * 24.5} r={[3, 5, 6, 7.5, 8.5, 9.5][i]} fill="#000" />
          <T x={967} y={800 + i * 24.5} s={26}>{v.toFixed(2)}</T>
        </g>
      ))}
      <T x={933} y={1018} s={31} len={100}>p.value</T>
      <rect x={937.5} y={1044} width={23.5} height={121} fill="url(#pGrad)" />
      {[[0.003,1064],[0.002,1098],[0.001,1131]].map(([v, y]) => (
        <g key={v}><line x1={937.5} x2={942} y1={y} y2={y} stroke="#fff" /><line x1={956.5} x2={961} y1={y} y2={y} stroke="#fff" /><T x={967} y={y} s={31.6}>{v.toFixed(3)}</T></g>
      ))}

      <T x={1575} y={1285} s={36} a="middle" len={334}>CD8+ T cell fraction</T>
      <T x={1196} y={914} s={37.6} a="middle" rot={-90} len={299}>MYEF2 expresion</T>
      <T x={1331} y={1103} s={31}>R = -0.5</T>
      <T x={1331} y={1141} s={31}>P = 1.2e-11</T>

      <rect x={694} y={1485} width={21} height={320} fill="url(#hGrad)" />
      {fLegendTicks.map(([v, s]) => <T key={s} x={724.5} y={fY(v)} s={25}>{s}</T>)}

      {gLegend.map(([s, k], i) => (
        <g key={s}>
          <circle cx={1516} cy={1932 + i * 36.6} r={12} fill={gColors[k]} />
          <T x={1537} y={1932 + i * 36.6} s={25.4}>{s}</T>
        </g>
      ))}
    </svg>
  );
}

export default function App() {
  return (
    <div style={{ position: "absolute", left: 0, top: 0, width: 1852, height: 2250, background: "#fff", overflow: "hidden" }}>
      <Box left={0} top={0} width={926} height={620}><PanelA /></Box>
      <Box left={0} top={0} width={926} height={620}><PanelAGuides /></Box>
      <Graph left={900} top={110} w={500} h={420} rows={bEdgeRows} nodes={bAll} stroke="#8C8C8C" edgeW={3} label={18} />
      <Box left={1400} top={200} width={452} height={300}><PanelC /></Box>
      <Box left={0} top={640} width={930} height={680}><PanelD /></Box>
      <Box left={1160} top={640} width={692} height={700}><PanelE /></Box>
      <Box left={206.6} top={1372} width={353.4} height={113}><DendroTop /></Box>
      <Box left={94.4} top={1485} width={112.2} height={652}><DendroLeft /></Box>
      <Box left={100} top={1400} width={620} height={850}><PanelFHeat /></Box>
      <Graph left={860} top={1460} w={680} h={660} rows={gRows} nodes={gAll} stroke="#8A8A8A" edgeW={2} label={14} />
      <Overlay />
    </div>
  );
}
